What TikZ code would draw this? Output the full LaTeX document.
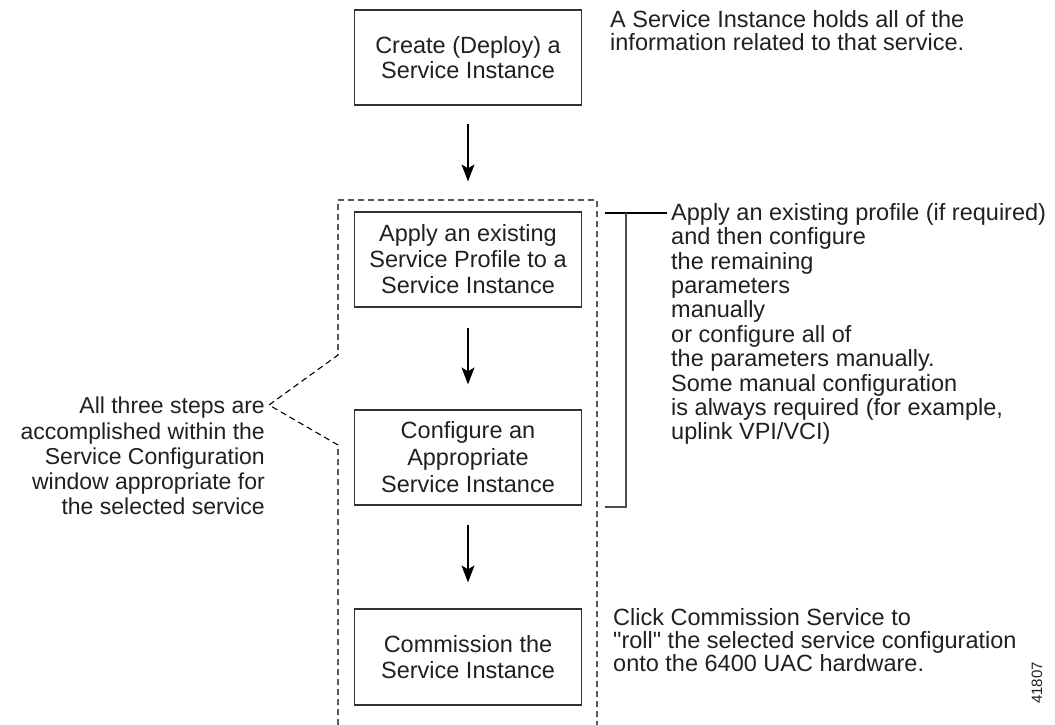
\documentclass[tikz,border=0pt]{standalone}
\usepackage{fontspec}
\setmainfont{Liberation Sans}[Ligatures=TeXOff]
\usetikzlibrary{arrows.meta}
\definecolor{txt}{HTML}{231F20}
\definecolor{boxc}{HTML}{333333}
\begin{document}
\begin{tikzpicture}[x=1pt,y=-1pt,
  every node/.style={inner sep=0pt, text=txt},
  stepbox/.style={draw=boxc, line width=1.2pt, minimum width=227pt, minimum height=95pt, align=center, font=\fontsize{23.5}{26}\selectfont},
  note/.style={align=left, anchor=north west},
  flow/.style={-{Stealth[length=17pt,width=13pt,inset=4pt]}, line width=1.2pt, draw=black},
  group/.style={dash pattern=on 6pt off 4pt, line width=1.1pt, draw=black},
  brk/.style={line width=1.5pt, draw=gray!60!black}
]
\useasboundingbox (0,0) rectangle (1055,725);

% step boxes
\node[stepbox, font=\fontsize{23.5}{24.7}\selectfont] (b1) at (468,57.5) {Create (Deploy) a\\Service Instance};
\node[stepbox] (b2) at (468,259.5) {Apply an existing\\Service Profile to a\\Service Instance};
\node[stepbox, font=\fontsize{23.5}{27}\selectfont] (b3) at (468,457.5) {Configure an\\Appropriate\\Service Instance};
\node[stepbox, minimum height=96pt] (b4) at (468,657) {Commission the\\Service Instance};

% flow arrows
\draw[flow, shorten <=18pt, shorten >=30pt] (b1) -- (b2);
\draw[flow, shorten <=20pt, shorten >=25pt] (b2) -- (b3);
\draw[flow, shorten <=19pt, shorten >=26pt] (b3) -- (b4);

% notes
\node[note, font=\fontsize{23.5}{23.3}\selectfont] (n1) at (610,9.8) {A Service Instance holds all of the\\information related to that service.};
\node[note, font=\fontsize{23.5}{24.4}\selectfont] (n2) at (671,203) {Apply an existing profile (if required)\\and then configure\\the remaining\\parameters\\manually\\or configure all of\\the parameters manually.\\Some manual configuration\\is always required (for example,\\uplink VPI/VCI)};
\node[note, font=\fontsize{23.5}{23.3}\selectfont] (n3) at (613,608) {Click Commission Service to\\"roll" the selected service configuration\\onto the 6400 UAC hardware.};
\node[align=right, anchor=north east, font=\fontsize{23}{25.2}\selectfont] (n4) at (265,397) {All three steps are\\accomplished within the\\Service Configuration\\window appropriate for\\the selected service};
\node[rotate=90, font=\fontsize{15}{18}\selectfont] (fig) at (1037,683) {41807};

% dashed grouping outline
\coordinate (gBL) at (338,725);
\coordinate (gL) at (338,445);
\coordinate (gApex) at (269,405);
\coordinate (gU) at (338,355);
\coordinate (gTL) at (338,200);
\coordinate (gTR) at (597,200);
\coordinate (gBR) at (597,725);
\draw[group] (gBL) -- (gL) -- (gApex) -- (gU) -- (gTL) -- (gTR) -- (gBR);

% bracket
\coordinate (bT) at (605,213);
\coordinate (bTm) at (626,213);
\coordinate (bE) at (667,213);
\coordinate (bB) at (605,507);
\coordinate (bBm) at (626,507);
\draw[line width=1.3pt, draw=black] (bT) -- (bE);
\draw[brk] (bB) -- (bBm) -- (bTm);
\end{tikzpicture}
\end{document}
